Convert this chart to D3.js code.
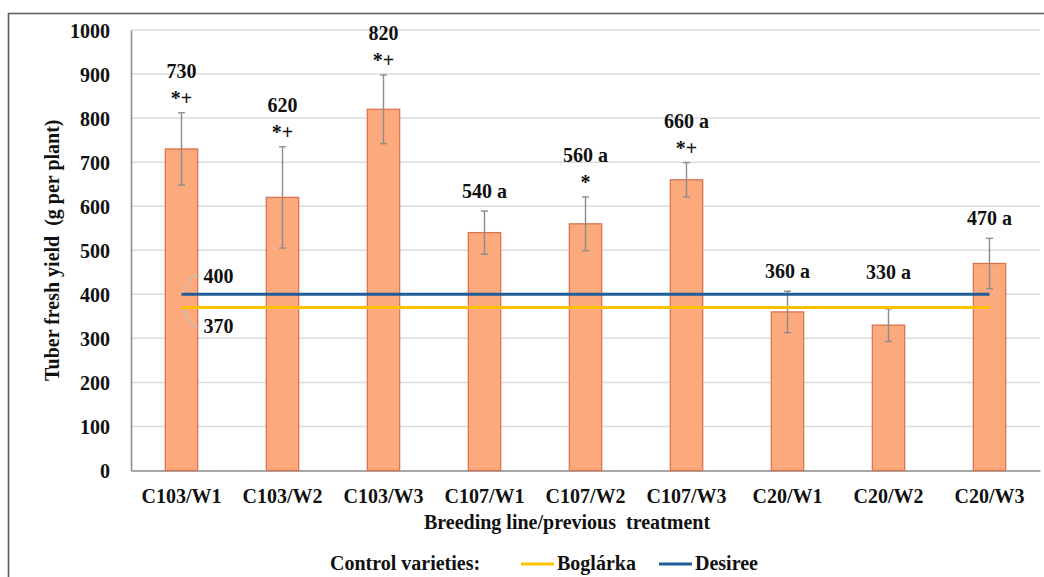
<!DOCTYPE html>
<html>
<head>
<meta charset="utf-8">
<script src="https://cdn.jsdelivr.net/npm/d3@7"></script>
<style>
  html, body { margin: 0; padding: 0; background: #fff; }
  svg { display: block; }
  text { font-family: "Liberation Serif", "DejaVu Serif", serif; font-weight: bold; fill: #111; }
</style>
</head>
<body>
<svg id="chart" width="1044" height="577"></svg>
<script>
// Breeding line / previous treatment
const categories = ["C103/W1", "C103/W2", "C103/W3", "C107/W1", "C107/W2", "C107/W3", "C20/W1", "C20/W2", "C20/W3"];
// Mean tuber fresh yield, g per plant
const yieldMeans = [730, 620, 820, 540, 560, 660, 360, 330, 470];
// Standard deviation (error bars)
const yieldErrors = [82, 115, 78, 49, 61, 39, 47, 37, 57];
// Letters following the value in each label
const valueSuffix = ["", "", "", " a", " a", " a", " a", " a", " a"];
// Significance marks shown under the value
const signifMarks = ["*+", "*+", "*+", "", "*", "*+", "", "", ""];
// Control varieties (horizontal reference lines)
const controlNames = ["Boglárka", "Desiree"];
const controlValues = [370, 400];
const controlColors = ["#FFC000", "#1F5C99"];
const yTicks = [0, 100, 200, 300, 400, 500, 600, 700, 800, 900, 1000];

const FONT = "'Liberation Serif', 'DejaVu Serif', serif";
const svg = d3.select("#chart");

const plot = { left: 131, right: 1040, top: 30, bottom: 470.5 };

const x = d3.scaleBand().domain(categories).range([plot.left, plot.right]);
const y = d3.scaleLinear().domain([0, 1000]).range([plot.bottom, plot.top]);
const barW = x.bandwidth() * 0.32;
const cx = c => x(c) + x.bandwidth() / 2;

// Outer frame (top and left edges)
svg.append("path")
  .attr("d", "M8.5,577 L8.5,13.5 L1044,13.5")
  .attr("fill", "none").attr("stroke", "#5a5a5a").attr("stroke-width", 1.6);

// Horizontal gridlines
svg.append("g").selectAll("line").data(yTicks.filter(t => t > 0)).join("line")
  .attr("x1", plot.left).attr("x2", plot.right)
  .attr("y1", d => y(d)).attr("y2", d => y(d))
  .attr("stroke", "#dcdcdc").attr("stroke-width", 1.5);

// Y axis
const yAxis = svg.append("g")
  .attr("transform", `translate(${plot.left},0)`)
  .call(d3.axisLeft(y).tickValues(yTicks).tickFormat(d3.format("d")).tickSize(0).tickPadding(21));
yAxis.attr("font-family", FONT);
yAxis.select(".domain").attr("stroke", "#8a8a8a").attr("stroke-width", 1.5);
yAxis.selectAll("text").attr("font-size", 20).attr("dy", "0.35em");

// X axis
const xAxis = svg.append("g")
  .attr("transform", `translate(0,${plot.bottom})`)
  .call(d3.axisBottom(x).tickSize(0).tickPadding(17));
xAxis.attr("font-family", FONT);
xAxis.select(".domain").attr("stroke", "#8a8a8a").attr("stroke-width", 1.5);
xAxis.selectAll("text").attr("font-size", 20).attr("dy", "0.75em");

const rows = categories.map((c, i) => ({
  c, v: yieldMeans[i], e: yieldErrors[i], suf: valueSuffix[i], mark: signifMarks[i]
}));

// Bars
svg.append("g").selectAll("rect").data(rows).join("rect")
  .attr("x", d => cx(d.c) - barW / 2)
  .attr("width", barW)
  .attr("y", d => y(d.v))
  .attr("height", d => y(0) - y(d.v))
  .attr("fill", "#FBA97D")
  .attr("stroke", "#DB7450")
  .attr("stroke-width", 1.3);

// Error bars
const eb = svg.append("g").attr("stroke", "#8c8c8c").attr("stroke-width", 1.4);
eb.selectAll("line.stem").data(rows).join("line").attr("class", "stem")
  .attr("x1", d => cx(d.c)).attr("x2", d => cx(d.c))
  .attr("y1", d => y(d.v + d.e)).attr("y2", d => y(d.v - d.e));
eb.selectAll("line.capTop").data(rows).join("line").attr("class", "capTop")
  .attr("x1", d => cx(d.c) - 3.5).attr("x2", d => cx(d.c) + 3.5)
  .attr("y1", d => y(d.v + d.e)).attr("y2", d => y(d.v + d.e));
eb.selectAll("line.capBot").data(rows).join("line").attr("class", "capBot")
  .attr("x1", d => cx(d.c) - 3.5).attr("x2", d => cx(d.c) + 3.5)
  .attr("y1", d => y(d.v - d.e)).attr("y2", d => y(d.v - d.e));

// Control variety reference lines, spanning first to last category
controlValues.forEach((val, k) => {
  svg.append("path")
    .datum([categories[0], categories[categories.length - 1]])
    .attr("d", d3.line().x(d => cx(d)).y(() => y(val)))
    .attr("stroke", controlColors[k]).attr("stroke-width", 3).attr("fill", "none");
});

// Value labels for the control lines with leader lines
const x0 = cx(categories[0]);
const ctrlLabels = [
  { v: controlValues[1], dir: -1 },
  { v: controlValues[0], dir: 1 }
];
ctrlLabels.forEach(l => {
  const yl = y(l.v);
  const yt = yl + l.dir * 18.5;
  svg.append("path")
    .attr("d", `M${x0 + 1},${yl + l.dir * 1.5} L${x0 + 11},${yt} L${x0 + 18},${yt}`)
    .attr("fill", "none").attr("stroke", "#c4c4c4").attr("stroke-width", 1.2);
  svg.append("text")
    .attr("x", x0 + 22).attr("y", yt).attr("dy", "0.35em")
    .attr("font-size", 20).text(l.v);
});

// Bar value labels and significance marks (kept clear of the control lines)
const ctrlTopY = y(d3.max(controlValues));
const lab = svg.append("g").attr("text-anchor", "middle").attr("font-size", 20);
rows.forEach(d => {
  const top = y(d.v + d.e);
  if (d.mark) {
    lab.append("text").attr("x", cx(d.c)).attr("y", top - 35).text(d.v + d.suf);
    lab.append("text").attr("x", cx(d.c)).attr("y", top - 8).text(d.mark);
  } else {
    const base = Math.min(top - 13, ctrlTopY - 15);
    lab.append("text").attr("x", cx(d.c)).attr("y", base).text(d.v + d.suf);
  }
});

// Axis titles
svg.append("text")
  .attr("transform", `translate(59,${(plot.top + plot.bottom) / 2}) rotate(-90)`)
  .attr("text-anchor", "middle").attr("font-size", 20)
  .text("Tuber fresh yield\u00a0 (g per plant)");
svg.append("text")
  .attr("x", 567).attr("y", 529)
  .attr("text-anchor", "middle").attr("font-size", 20)
  .text("Breeding line/previous\u00a0 treatment");

// Legend
const lg = svg.append("g").attr("font-size", 20);
lg.append("text").attr("x", 330).attr("y", 570).text("Control varieties:");
const legendItems = [
  { name: controlNames[0], color: controlColors[0], x: 521 },
  { name: controlNames[1], color: controlColors[1], x: 659 }
];
legendItems.forEach(it => {
  lg.append("line")
    .attr("x1", it.x).attr("x2", it.x + 33)
    .attr("y1", 564).attr("y2", 564)
    .attr("stroke", it.color).attr("stroke-width", 3);
  lg.append("text").attr("x", it.x + 36).attr("y", 570).text(it.name);
});
</script>
</body>
</html>
